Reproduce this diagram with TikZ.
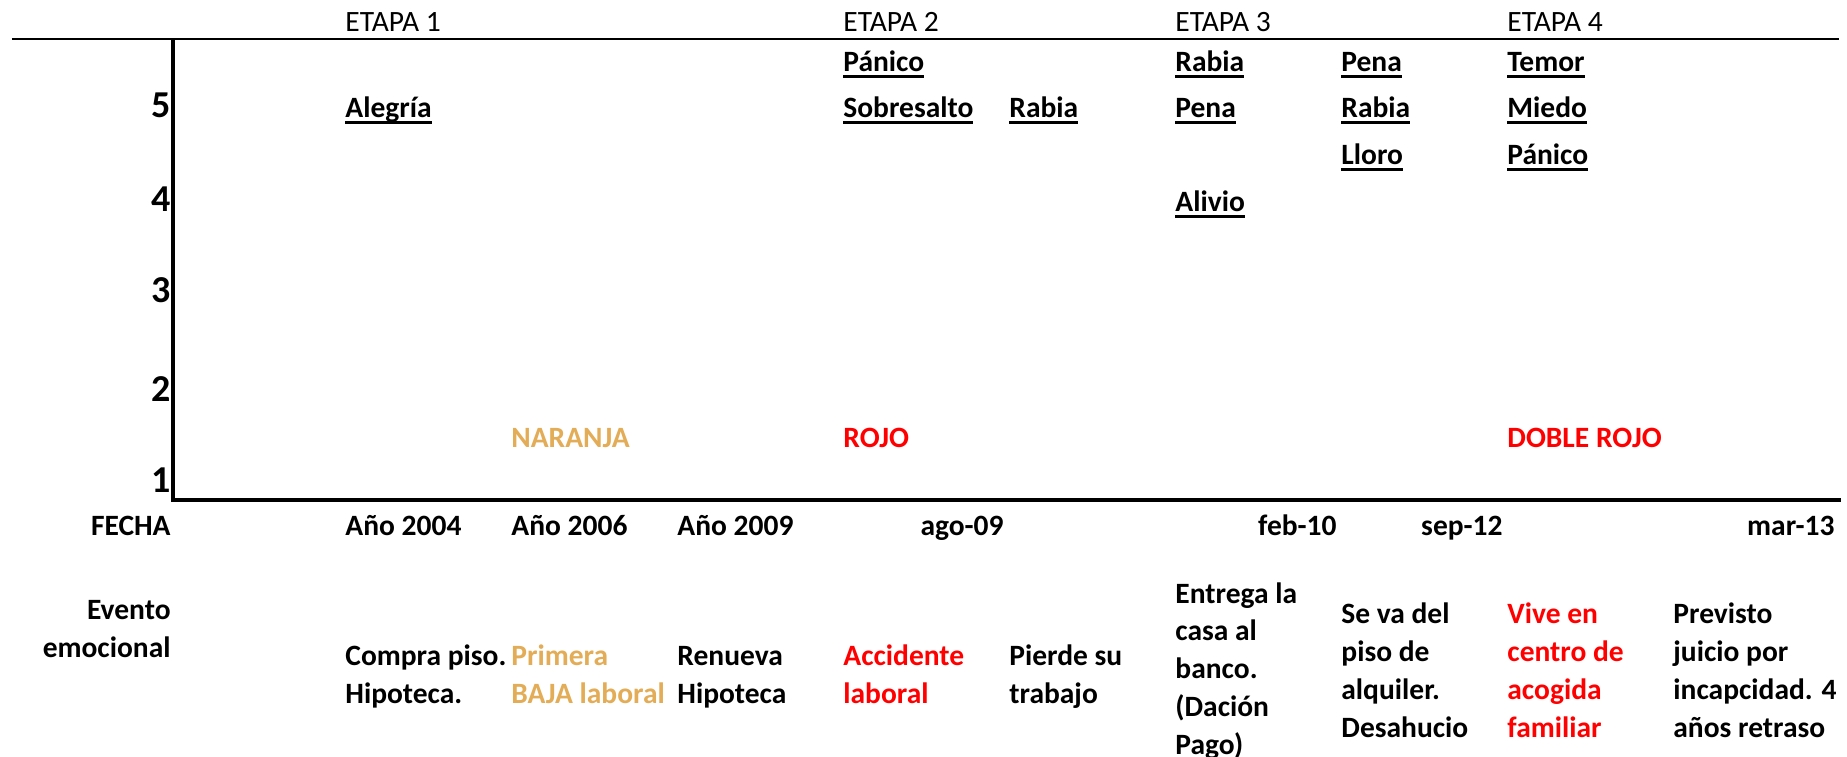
\documentclass[tikz,border=0pt]{standalone}
\usepackage{fontspec}
\setmainfont{Carlito}
\newcommand{\subr}[1]{\setbox0\hbox{#1}\rlap{\rule[-2.9pt]{\wd0}{1.2pt}}\box0}
\definecolor{naranja}{RGB}{227,172,86}
\definecolor{rojo}{RGB}{255,0,0}
\tikzset{
    celda/.style={inner sep=0pt, font=\fontsize{14.75pt}{18.85pt}\selectfont\bfseries},
    izq/.style={celda, anchor=base west},
    der/.style={celda, anchor=base east},
    evento/.style={izq, align=left},
    etapa/.style={inner sep=0pt, anchor=base west, font=\fontsize{14.75pt}{18.85pt}\selectfont},
    nivel/.style={inner sep=0pt, anchor=base east, font=\fontsize{19pt}{23pt}\selectfont\bfseries}
}
\begin{document}
\begin{tikzpicture}[x=50pt, y=50pt]

        % Margins
        \useasboundingbox (00.00,00.00) rectangle (18.47,07.56);

        % Axes
        \coordinate (lineaI) at (00.12,07.17);
        \coordinate (lineaD) at (18.39,07.17);
        \coordinate (ejeY) at (01.73,07.17);
        \coordinate (origen) at (01.73,02.56);
        \coordinate (ejeX) at (18.41,02.56);
        \draw [line width=0.7pt] (lineaI) -- (lineaD);
        \draw [line width=1.8pt] (ejeY) -- (origen) -- (ejeX);

        % Etapas
        \draw (03.45,07.24) node (etapa1) [etapa] {ETAPA 1};
        \draw (08.43,07.24) node (etapa2) [etapa] {ETAPA 2};
        \draw (11.75,07.24) node (etapa3) [etapa] {ETAPA 3};
        \draw (15.07,07.24) node (etapa4) [etapa] {ETAPA 4};

        % Niveles
        \draw (01.71,06.38) node (n5) [nivel] {5};
        \draw (01.71,05.44) node (n4) [nivel] {4};
        \draw (01.71,04.53) node (n3) [nivel] {3};
        \draw (01.71,03.54) node (n2) [nivel] {2};
        \draw (01.71,02.64) node (n1) [nivel] {1};

        % Emociones
        \draw (03.45,06.38) node (alegria) [izq] {\subr{Alegría}};
        \draw (08.43,06.84) node (panicoA) [izq] {\subr{Pánico}};
        \draw (08.43,06.38) node (sobresalto) [izq] {\subr{Sobresalto}};
        \draw (10.09,06.38) node (rabiaA) [izq] {\subr{Rabia}};
        \draw (11.75,06.84) node (rabiaB) [izq] {\subr{Rabia}};
        \draw (11.75,06.38) node (penaA) [izq] {\subr{Pena}};
        \draw (11.75,05.44) node (alivio) [izq] {\subr{Alivio}};
        \draw (13.41,06.84) node (penaB) [izq] {\subr{Pena}};
        \draw (13.41,06.38) node (rabiaC) [izq] {\subr{Rabia}};
        \draw (13.41,05.91) node (lloro) [izq] {\subr{Lloro}};
        \draw (15.07,06.84) node (temor) [izq] {\subr{Temor}};
        \draw (15.07,06.38) node (miedo) [izq] {\subr{Miedo}};
        \draw (15.07,05.91) node (panicoB) [izq] {\subr{Pánico}};

        % Alertas
        \draw (05.11,03.08) node (alNaranja) [izq, text=naranja] {NARANJA};
        \draw (08.43,03.08) node (alRojo) [izq, text=rojo] {ROJO};
        \draw (15.07,03.08) node (alDoble) [izq, text=rojo] {DOBLE ROJO};

        % Fechas
        \draw (01.71,02.21) node (fecha) [der] {FECHA};
        \draw (03.45,02.21) node (f2004) [izq] {Año 2004};
        \draw (05.11,02.21) node (f2006) [izq] {Año 2006};
        \draw (06.77,02.21) node (f2009) [izq] {Año 2009};
        \draw (10.04,02.21) node (fago09) [der] {ago-09};
        \draw (13.37,02.21) node (ffeb10) [der] {feb-10};
        \draw (15.03,02.21) node (fsep12) [der] {sep-12};
        \draw (18.35,02.21) node (fmar13) [der] {mar-13};

        % Eventos (base = last line)
        \draw (01.71,00.99) node (evento) [der, align=right] {Evento\\emocional};
        \draw (03.45,00.53) node (ev1) [evento] {Compra piso.\\Hipoteca.};
        \draw (05.11,00.53) node (ev2) [evento, text=naranja] {Primera\\BAJA laboral};
        \draw (06.77,00.53) node (ev3) [evento] {Renueva\\Hipoteca};
        \draw (08.43,00.53) node (ev4) [evento, text=rojo] {Accidente\\laboral};
        \draw (10.09,00.53) node (ev5) [evento] {Pierde su\\trabajo};
        \draw (11.75,00.02) node (ev6) [evento] {Entrega la\\casa al\\banco.\\(Dación\\Pago)};
        \draw (13.41,00.19) node (ev7) [evento] {Se va del\\piso de\\alquiler.\\Desahucio};
        \draw (15.07,00.19) node (ev8) [evento, text=rojo] {Vive en\\centro de\\acogida\\familiar};
        \draw (16.73,00.19) node (ev9) [evento] {Previsto\\juicio por\\incapcidad. 4\\años retraso};

    \end{tikzpicture}
\end{document}
